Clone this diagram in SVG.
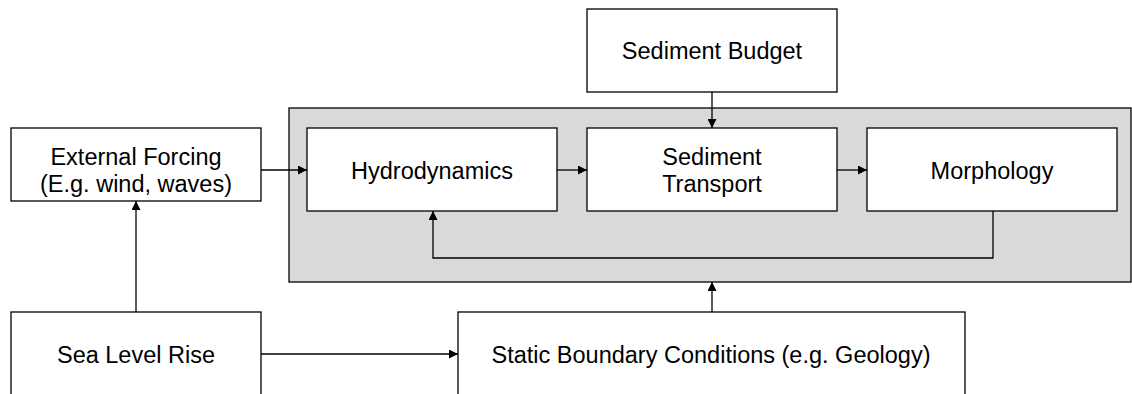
<svg xmlns="http://www.w3.org/2000/svg" width="1132" height="394" viewBox="0 0 1132 394">
  <style>
    .box { fill: #ffffff; stroke: #000000; stroke-width: 1.3; }
    .group { fill: #d9d9d9; stroke: #000000; stroke-width: 1.3; }
    .lbl { font-family: "Liberation Sans", Arial, sans-serif; font-size: 23.5px; fill: #000000; text-anchor: middle; }
    .wire { fill: none; stroke: #000000; stroke-width: 1.3; }
  </style>
  <defs>
    <marker id="arrow" viewBox="0 0 10 10" refX="10" refY="5" markerWidth="9" markerHeight="9" markerUnits="userSpaceOnUse" orient="auto">
      <path d="M0,0 L10,5 L0,10 z" fill="#000000"/>
    </marker>
  </defs>

  <!-- model container -->
  <rect class="group" x="289" y="108" width="842" height="174"/>

  <g id="sediment-budget">
    <rect class="box" x="587" y="9" width="250" height="83"/>
    <text class="lbl" x="712" y="59">Sediment Budget</text>
  </g>
  <g id="external-forcing">
    <rect class="box" x="11" y="128" width="250" height="73"/>
    <text class="lbl" x="136" y="165">External Forcing</text>
    <text class="lbl" x="136" y="192">(E.g. wind, waves)</text>
  </g>
  <g id="hydrodynamics">
    <rect class="box" x="307" y="128" width="250" height="83"/>
    <text class="lbl" x="432" y="179">Hydrodynamics</text>
  </g>
  <g id="sediment-transport">
    <rect class="box" x="587" y="128" width="250" height="83"/>
    <text class="lbl" x="712" y="165">Sediment</text>
    <text class="lbl" x="712" y="192">Transport</text>
  </g>
  <g id="morphology">
    <rect class="box" x="867" y="128" width="250" height="83"/>
    <text class="lbl" x="992" y="179">Morphology</text>
  </g>
  <g id="sea-level-rise">
    <rect class="box" x="11" y="312" width="250" height="100"/>
    <text class="lbl" x="136" y="363">Sea Level Rise</text>
  </g>
  <g id="static-boundary">
    <rect class="box" x="458" y="312" width="507" height="100"/>
    <text class="lbl" x="711" y="363">Static Boundary Conditions (e.g. Geology)</text>
  </g>

  <g id="connectors">
    <line class="wire" x1="712" y1="92" x2="712" y2="128" marker-end="url(#arrow)"/>
    <line class="wire" x1="261" y1="170" x2="307" y2="170" marker-end="url(#arrow)"/>
    <line class="wire" x1="557" y1="170" x2="587" y2="170" marker-end="url(#arrow)"/>
    <line class="wire" x1="837" y1="170" x2="867" y2="170" marker-end="url(#arrow)"/>
    <polyline class="wire" points="993,211 993,258 433,258 433,211" marker-end="url(#arrow)"/>
    <line class="wire" x1="136" y1="312" x2="136" y2="201" marker-end="url(#arrow)"/>
    <line class="wire" x1="261" y1="354" x2="458" y2="354" marker-end="url(#arrow)"/>
    <line class="wire" x1="712" y1="312" x2="712" y2="282" marker-end="url(#arrow)"/>
  </g>
</svg>
